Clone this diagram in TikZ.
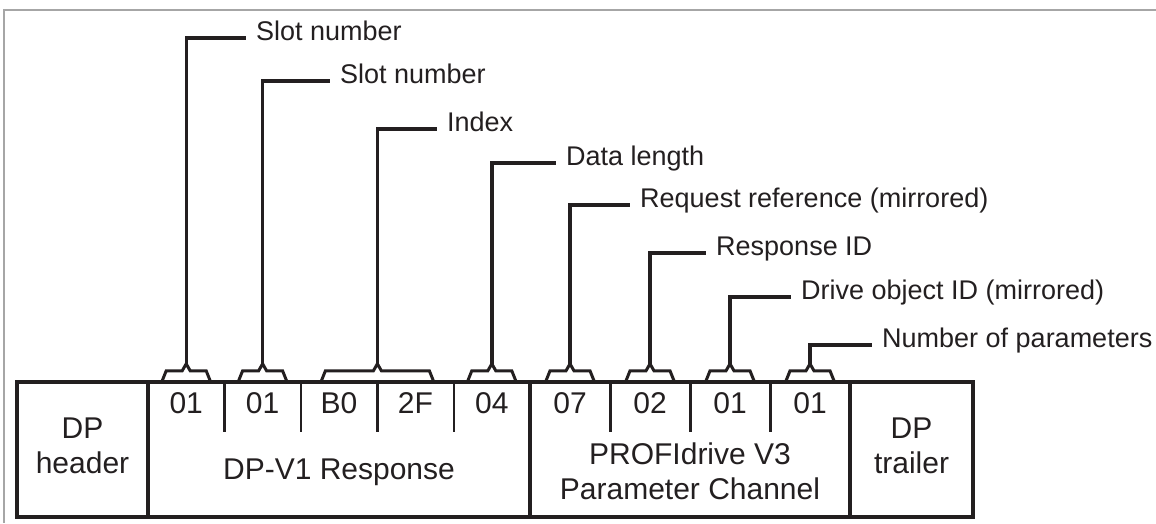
\documentclass[tikz,border=0pt]{standalone}
\usepackage{fontspec}
\setmainfont{Liberation Sans}
\usepackage{xcolor}
\usepackage{tikz}
\usetikzlibrary{calc}

\definecolor{ink}{HTML}{231F20}

\begin{document}
\begin{tikzpicture}[
    x=1pt, y=-1pt,
    txt/.style={font=\fontsize{30}{35}\selectfont, text=ink},
    box/.style={draw=ink, line width=3.4pt, inner sep=0pt, minimum height=135pt},
    byte/.style={txt, inner sep=0pt, minimum height=42pt},
    lbl/.style={font=\fontsize{27}{33}\selectfont, text=ink, anchor=mid west,
                inner sep=0pt, inner xsep=10pt},
    lead/.style={ink, line width=3.4pt},
    brc/.style={ink, line width=3pt},
    sep/.style={ink, line width=2.6pt}
  ]

  \useasboundingbox (0,0) rectangle (1156,523);

  % page frame (top and left only)
  \draw[black!35, line width=2pt] (1156,9.5) -- (3.5,9.5) -- (3.5,523);

  % ══ TELEGRAM: four main fields ════════════════════════════════════════════
  \node[box, minimum width=131pt] (hdr) at (82.5,449.5) {};
  \node[box, minimum width=382pt] (rsp) at (339,449.5) {};
  \node[box, minimum width=320pt] (chn) at (690,449.5) {};
  \node[box, minimum width=123pt] (trl) at (911.5,449.5) {};

  \node[txt, align=center] (hdrtxt) at ($(hdr)+(0,-4)$) {DP\\header};
  \node[txt] (rsptxt) at (339,472) {DP-V1 Response};
  \node[txt, align=center] (chntxt) at (690,471) {PROFIdrive V3\\Parameter Channel};
  \node[txt, align=center] (trltxt) at ($(trl)+(0,-4)$) {DP\\trailer};

  % bytes of the DP-V1 response
  \foreach \v [count=\i] in {01,01,B0,2F,04}
    \node[byte, minimum width=76.4pt] (r\i) at ({148+76.4*(\i-0.5)},403) {\v};
  % bytes of the parameter channel
  \foreach \v [count=\i] in {07,02,01,01}
    \node[byte, minimum width=80pt] (c\i) at ({530+80*(\i-0.5)},403) {\v};

  % short separators between bytes
  \foreach \n in {r1,r2,r3,r4,c1,c2,c3}
    \draw[sep] (\n.north east) -- ++(0,50);

  % ══ BRACES above the bytes ════════════════════════════════════════════════
  \foreach \n in {r1,r2,r5,c1,c2,c3,c4}
    \coordinate (\n-a) at ($(\n.north)+(0,-18)$);
  \coordinate (r34-a) at ($(r3.north east)+(0,-18)$);

  \foreach \n in {r1,r2,r5,c1,c2,c3,c4}
    \draw[brc] ($(\n-a)+(-24,17)$) -- ++(4,-10) -- ($(\n-a)+(-4,7)$)
      -- (\n-a) -- ++(4,7) -- ($(\n-a)+(20,7)$) -- ++(4,10);
  \draw[brc] ($(r34-a)+(-56,17)$) -- ++(4,-10) -- ($(r34-a)+(-4,7)$)
    -- (r34-a) -- ++(4,7) -- ($(r34-a)+(52,7)$) -- ++(4,10);

  % ══ LABELS ════════════════════════════════════════════════════════════════
  \node[lbl] (slot1) at (246,38) {Slot number};
  \node[lbl] (slot2) at (330,81) {Slot number};
  \node[lbl] (idx) at (437,129) {Index};
  \node[lbl] (dlen) at (556,163) {Data length};
  \node[lbl] (rref) at (630,205) {Request reference (mirrored)};
  \node[lbl] (rid) at (706,253) {Response ID};
  \node[lbl] (doid) at (791,297) {Drive object ID (mirrored)};
  \node[lbl] (npar) at (872,345) {Number of parameters};

  % leaders from brace to label
  \foreach \a/\l in {r1-a/slot1, r2-a/slot2, r34-a/idx, r5-a/dlen,
                     c1-a/rref, c2-a/rid, c3-a/doid, c4-a/npar}
    \draw[lead] (\a) |- (\l.mid west);

\end{tikzpicture}
\end{document}
